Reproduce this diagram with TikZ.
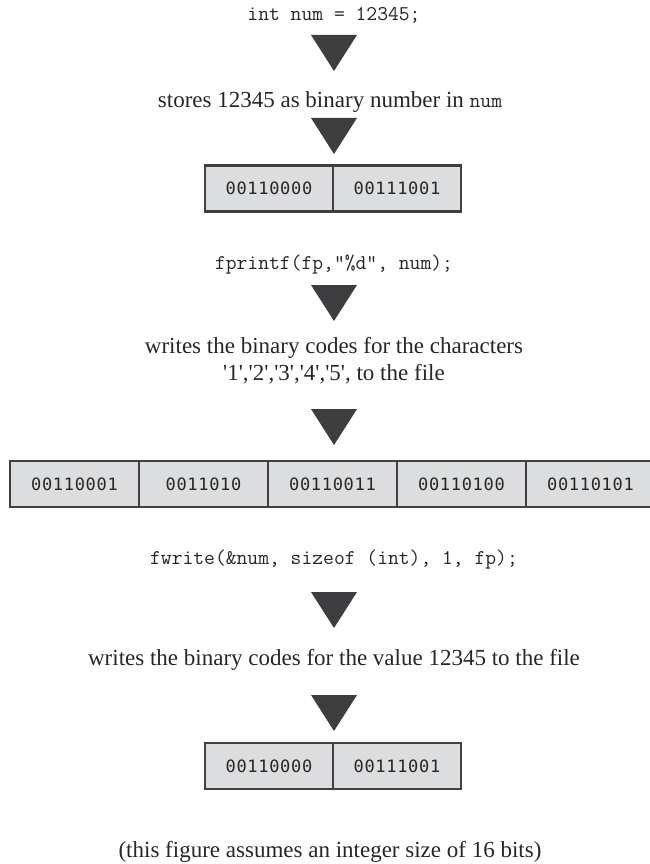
\documentclass[tikz,border=0pt]{standalone}
\usepackage{fontspec}
\setmainfont{Liberation Serif}
\newfontfamily\cellfont[LetterSpace=4]{DejaVu Sans Mono}
\definecolor{txtcol}{HTML}{262626}
\definecolor{edgecol}{HTML}{404042}
\definecolor{cellfill}{HTML}{DCDDDF}
\definecolor{arrowcol}{HTML}{3E3E40}
\newcommand\downtri[2]{\fill[downfill] (#1-23,#2) -- (#1+23,#2) -- (#1,#2+36) -- cycle;}
\newcommand\sq{\textquotesingle}
\begin{document}
\begin{tikzpicture}[x=1pt,y=-1pt,
  txt/.style={font=\fontsize{23}{27}\selectfont, text=txtcol, inner sep=0, align=center},
  code/.style={font=\ttfamily\fontsize{21}{24}\selectfont, text=txtcol, inner sep=0},
  cell/.style={draw=edgecol, fill=cellfill, line width=2.5pt, minimum height=46pt,
    minimum width=#1, inner sep=0, font=\cellfont\fontsize{17}{20}\selectfont, text=txtcol},
  cell/.default=128pt,
  downfill/.style={fill=arrowcol}]
\useasboundingbox (0,0) rectangle (649,864);

\node[code] (c1) at (334,15) {int num = 12345;};
\downtri{334}{35}
\node[txt] (t1) at (330,102) {stores 12345 as binary number in {\ttfamily\fontsize{21}{24}\selectfont num}};
\downtri{334}{118}
\node[cell] (a1) at (269,188.5) {00110000};
\node[cell] (a2) at (397,188.5) {00111001};

\node[code] (c2) at (334,265) {fprintf(fp,"\%d", num);};
\downtri{334}{285}
\node[txt] (t2) at (334,361) {writes the binary codes for the characters\\\sq1\sq,\sq2\sq,\sq3\sq,\sq4\sq,\sq5\sq, to the file};
\downtri{334}{409}
\node[cell=129pt] (b1) at (74.5,484) {00110001};
\node[cell=129pt] (b2) at (203.5,484) {0011010};
\node[cell=129pt] (b3) at (332.5,484) {00110011};
\node[cell=129pt] (b4) at (461.5,484) {00110100};
\node[cell=129pt] (b5) at (590.5,484) {00110101};

\node[code] (c3) at (334,560) {fwrite(\&num, sizeof (int), 1, fp);};
\downtri{334}{592}
\node[txt] (t3) at (334,660) {writes the binary codes for the value 12345 to the file};
\downtri{334}{695}
\node[cell] (d1) at (269,766) {00110000};
\node[cell] (d2) at (397,766) {00111001};

\node[txt] (t4) at (330,852) {(this figure assumes an integer size of 16 bits)};
\end{tikzpicture}
\end{document}
